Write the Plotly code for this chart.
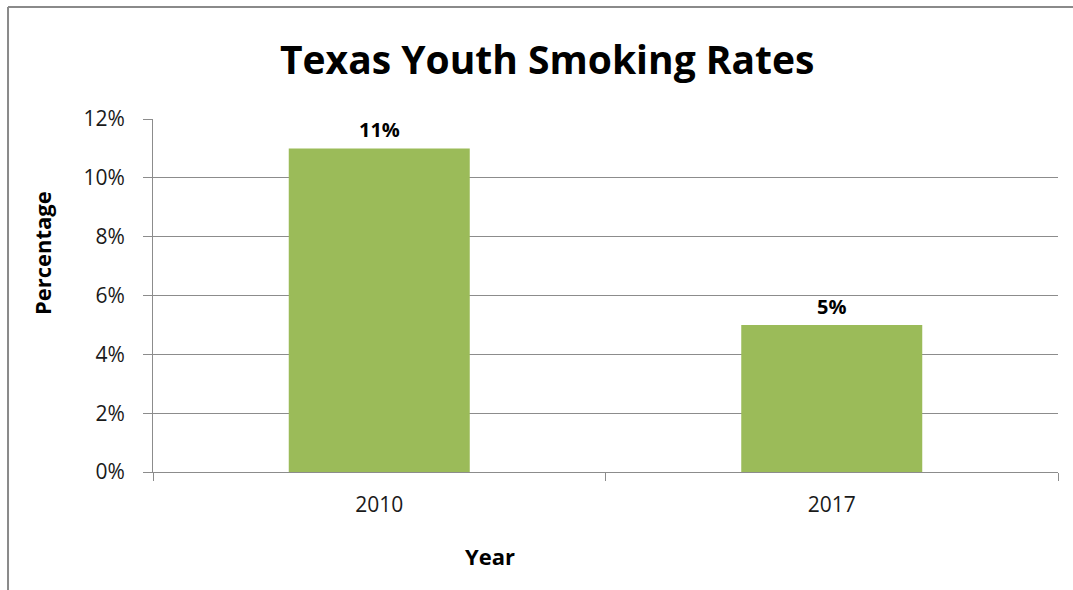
import plotly.graph_objects as go

years = ["2010", "2017"]
rates = [0.11, 0.05]
bar_color = "#9BBB59"
grid_color = "#8C8C8C"
font_family = "Open Sans"

fig = go.Figure(
    go.Bar(
        x=years,
        y=rates,
        width=0.4,
        marker=dict(color=bar_color, line=dict(width=0)),
        hoverinfo="skip",
    )
)

# value labels above each bar (category index on the x axis)
for i, r in enumerate(rates):
    fig.add_annotation(
        x=i, y=r, xref="x", yref="y",
        text=f"<b>{r:.0%}</b>",
        showarrow=False,
        yanchor="bottom",
        yshift=3,
        font=dict(size=20, family=font_family, color="#000000"),
    )

fig.update_layout(
    width=1073,
    height=590,
    paper_bgcolor="white",
    plot_bgcolor="white",
    margin=dict(l=153, r=15, t=119, b=118),
    font=dict(family=font_family, color="#000000"),
    title=dict(
        text="<b>Texas Youth Smoking Rates</b>",
        x=0.51,
        xref="container",
        xanchor="center",
        y=0.898,
        yref="container",
        yanchor="middle",
        font=dict(size=39, family=font_family, color="#000000"),
    ),
    showlegend=False,
    bargap=0.6,
)

fig.update_xaxes(
    type="category",
    categoryorder="array",
    categoryarray=years,
    range=[-0.5, len(years) - 0.5],
    tickson="boundaries",
    ticks="outside",
    ticklen=8,
    tickcolor=grid_color,
    showline=True,
    linecolor=grid_color,
    linewidth=1,
    showgrid=False,
    tickangle=0,
    tickfont=dict(size=21, family=font_family, color="#1A1A1A"),
    ticklabelstandoff=14,
)

fig.update_yaxes(
    range=[0, 0.12],
    dtick=0.02,
    tickformat=".0%",
    ticks="outside",
    ticklen=9,
    tickcolor=grid_color,
    showline=True,
    linecolor=grid_color,
    linewidth=1,
    showgrid=True,
    gridcolor=grid_color,
    gridwidth=1,
    zeroline=False,
    tickfont=dict(size=21, family=font_family, color="#1A1A1A"),
    ticklabelstandoff=14,
)

# axis titles
fig.add_annotation(
    text="<b>Year</b>", xref="paper", yref="paper",
    x=0.3724, y=-0.238, showarrow=False,
    xanchor="center", yanchor="middle",
    font=dict(size=22, family=font_family, color="#000000"),
)
fig.add_annotation(
    text="<b>Percentage</b>", xref="paper", yref="paper",
    x=-0.1227, y=0.620, showarrow=False, textangle=-90,
    xanchor="center", yanchor="middle",
    font=dict(size=22, family=font_family, color="#000000"),
)

# outer frame: left and top edges of the chart box
frame = dict(color="#8A8A8A", width=2)
fig.add_shape(type="line", xref="paper", yref="paper",
              x0=-0.1602, x1=-0.1602, y0=-0.35, y1=1.317, line=frame)
fig.add_shape(type="line", xref="paper", yref="paper",
              x0=-0.1602, x1=1.02, y0=1.317, y1=1.317, line=frame)

fig.write_html("out.html")
